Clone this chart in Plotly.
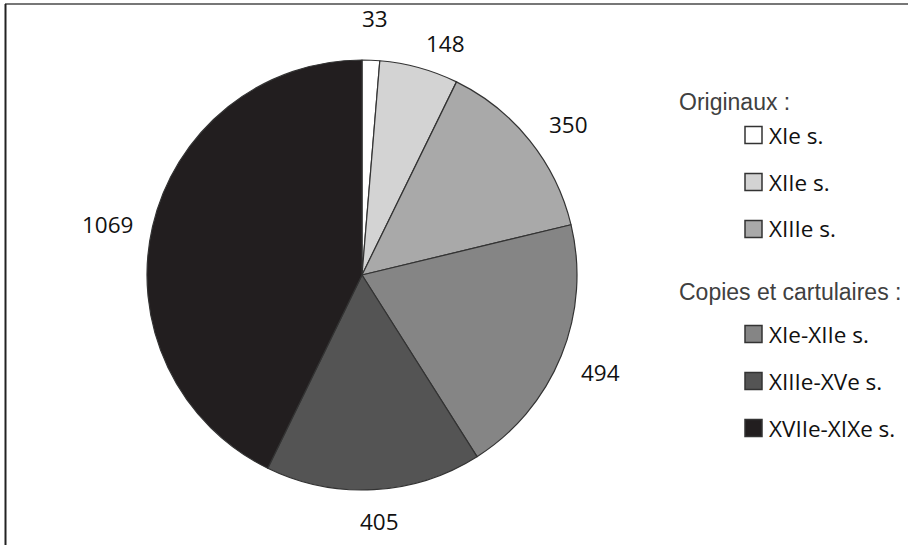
import math
import plotly.graph_objects as go

# ---- data ----
categories = ["XIe s.", "XIIe s.", "XIIIe s.", "XIe-XIIe s.", "XIIIe-XVe s.", "XVIIe-XIXe s."]
values = [33, 148, 350, 494, 405, 1069]
groups = ["Originaux :", "Originaux :", "Originaux :",
          "Copies et cartulaires :", "Copies et cartulaires :", "Copies et cartulaires :"]

# ---- style ----
colors = ["#ffffff", "#d3d3d3", "#a9a9a9", "#858585", "#545454", "#221e1f"]
W, H = 908, 545
CX, CY, R = 362, 275, 215
LABEL_R = 255
label_nudge = [(2, -2), (16, 14), (8, 9), (2, 2), (3, -8), (-6, 7)]

def px(x):
    return x / W

def py(y):
    return 1 - y / H

fig = go.Figure()
fig.add_trace(go.Pie(
    labels=categories,
    values=values,
    sort=False,
    direction="clockwise",
    rotation=0,
    marker=dict(colors=colors, line=dict(color="#333333", width=1.2)),
    textinfo="none",
    showlegend=False,
    domain=dict(x=[px(CX - R), px(CX + R)], y=[py(CY + R), py(CY - R)]),
))

annotations = []
shapes = []

# value labels outside slices
total = sum(values)
cum = 0
for i, v in enumerate(values):
    mid = (cum + v / 2) / total * 2 * math.pi
    cum += v
    lx = CX + LABEL_R * math.sin(mid) + label_nudge[i][0]
    ly = CY - LABEL_R * math.cos(mid) + label_nudge[i][1]
    annotations.append(dict(
        x=px(lx), y=py(ly), xref="paper", yref="paper",
        text=str(v), showarrow=False, xanchor="center", yanchor="middle",
        font=dict(family="Open Sans", size=22.5, color="#111111"),
    ))

# custom legend
HEAD_X, BOX_X, BOX_S, TEXT_X = 677, 745, 17, 767
y = 102
prev_group = None
for i, cat in enumerate(categories):
    if groups[i] != prev_group:
        if prev_group is not None:
            y += 63
        annotations.append(dict(
            x=px(HEAD_X), y=py(y), xref="paper", yref="paper",
            text=groups[i], showarrow=False, xanchor="left", yanchor="middle",
            font=dict(family="Liberation Sans", size=23, color="#404040"),
        ))
        y += 33 if prev_group is None else 42
        prev_group = groups[i]
    else:
        y += 47
    shapes.append(dict(
        type="rect", xref="paper", yref="paper",
        x0=px(BOX_X), x1=px(BOX_X + BOX_S), y0=py(y + BOX_S / 2), y1=py(y - BOX_S / 2),
        fillcolor=colors[i], line=dict(color="#333333", width=1.5),
    ))
    annotations.append(dict(
        x=px(TEXT_X), y=py(y), xref="paper", yref="paper",
        text=cat, showarrow=False, xanchor="left", yanchor="middle",
        font=dict(family="Open Sans", size=22.5, color="#111111"),
    ))

# frame lines (top and left)
shapes.append(dict(type="line", xref="paper", yref="paper",
                   x0=px(5), x1=1, y0=py(4), y1=py(4),
                   line=dict(color="#777777", width=2)))
shapes.append(dict(type="line", xref="paper", yref="paper",
                   x0=px(5.5), x1=px(5.5), y0=py(4), y1=0,
                   line=dict(color="#222222", width=2)))

fig.update_layout(
    width=W, height=H, autosize=False,
    margin=dict(l=0, r=0, t=0, b=0),
    paper_bgcolor="white", plot_bgcolor="white",
    annotations=annotations, shapes=shapes,
)

fig.write_html("out.html")
